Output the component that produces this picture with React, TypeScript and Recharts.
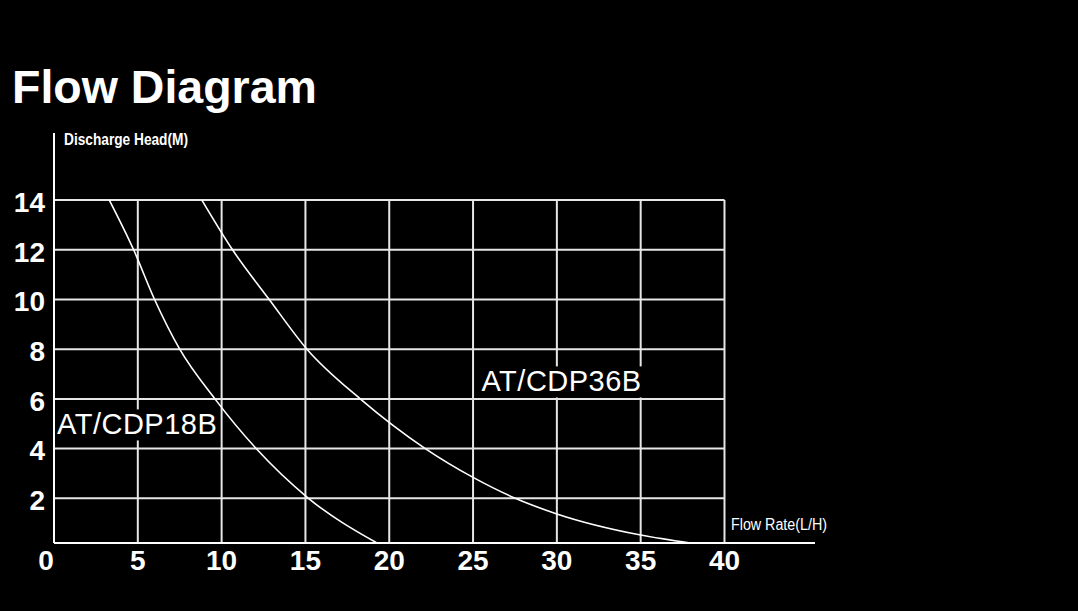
import { LineChart, Line, XAxis, YAxis, ReferenceLine, ReferenceDot } from "recharts";

const FONT = "'Liberation Sans', Arial, sans-serif";

// AT/CDP18B curve
const flow18 = [3.3, 4.75, 6.0, 7.5, 9.6, 12.06, 15.18, 19.27];
const head18 = [14, 12, 10, 8, 6, 4, 2, 0.2];

// AT/CDP36B curve
const flow36 = [8.82, 10.65, 12.84, 15.09, 18.27, 22.15, 25, 27.52, 30, 35, 37.97];
const head36 = [14, 12, 10, 8, 6, 4, 2.84, 2, 1.37, 0.52, 0.2];

const xTicks = [0, 5, 10, 15, 20, 25, 30, 35, 40];
const yTicks = [2, 4, 6, 8, 10, 12, 14];

const X_MIN = 0;
const X_MAX = 45.4;
const Y_MIN = 0.2;
const Y_MAX = 16.7;
const GRID_X_MAX = 40;
const GRID_Y_MAX = 14;

const data18 = flow18.map((flow, i) => ({ flow, head: head18[i] }));
const data36 = flow36.map((flow, i) => ({ flow, head: head36[i] }));

const XTick = ({ x, y, payload }: any) => {
    const shift = payload.value === 0 ? -8 : 0;
    return (
        <text x={x + shift} y={y} dy="0.71em" textAnchor="middle" fill="#fff" fontSize={28} fontWeight="bold" fontFamily={FONT}>
            {payload.value}
        </text>
    );
};

const YTick = ({ x, y, payload }: any) => (
    <text x={x} y={y} dy="0.42em" textAnchor="end" fill="#fff" fontSize={28} fontWeight="bold" fontFamily={FONT}>
        {payload.value}
    </text>
);

const curveLabel = (text: string) => (props: any) => {
    const { cx, cy } = props;
    return (
        <g>
            <rect x={cx - 1} y={cy - 25} width={162} height={31} fill="#000" />
            <text x={cx} y={cy} fill="#fff" fontSize={29} letterSpacing={0.5} fontFamily={FONT}>
                {text}
            </text>
        </g>
    );
};

export default function App() {
    return (
        <div style={{ position: "fixed", top: 0, left: 0, width: 1078, height: 611, background: "#000" }}>
            <LineChart width={1078} height={611} margin={{ top: 133, right: 263, bottom: 0, left: 0 }}>
                <XAxis
                    type="number"
                    dataKey="flow"
                    domain={[X_MIN, X_MAX]}
                    ticks={xTicks}
                    allowDataOverflow
                    height={68}
                    tickSize={0}
                    tickMargin={7}
                    tick={<XTick />}
                    axisLine={{ stroke: "#fff", strokeWidth: 2 }}
                />
                <YAxis
                    type="number"
                    dataKey="head"
                    domain={[Y_MIN, Y_MAX]}
                    ticks={yTicks}
                    allowDataOverflow
                    width={54}
                    tickSize={0}
                    tickMargin={9}
                    tick={<YTick />}
                    axisLine={{ stroke: "#fff", strokeWidth: 2 }}
                />
                {yTicks.map((v) => (
                    <ReferenceLine
                        key={"h" + v}
                        segment={[{ x: X_MIN, y: v }, { x: GRID_X_MAX, y: v }]}
                        stroke="#e6e6e6"
                        strokeWidth={2}
                        ifOverflow="visible"
                    />
                ))}
                {xTicks.filter((v) => v > 0).map((v) => (
                    <ReferenceLine
                        key={"v" + v}
                        segment={[{ x: v, y: Y_MIN }, { x: v, y: GRID_Y_MAX }]}
                        stroke="#e6e6e6"
                        strokeWidth={2}
                        ifOverflow="visible"
                    />
                ))}
                <Line
                    data={data18}
                    dataKey="head"
                    type="monotone"
                    stroke="#fff"
                    strokeWidth={1.6}
                    dot={false}
                    isAnimationActive={false}
                />
                <Line
                    data={data36}
                    dataKey="head"
                    type="monotone"
                    stroke="#fff"
                    strokeWidth={1.6}
                    dot={false}
                    isAnimationActive={false}
                />
                <ReferenceDot x={0.18} y={4.57} r={0} ifOverflow="visible" shape={curveLabel("AT/CDP18B")} />
                <ReferenceDot x={25.5} y={6.3} r={0} ifOverflow="visible" shape={curveLabel("AT/CDP36B")} />
            </LineChart>
            <svg
                width={1078}
                height={611}
                style={{ position: "absolute", top: 0, left: 0, pointerEvents: "none" }}
            >
                <text x={12} y={103} fill="#fff" fontSize={46.5} fontWeight="bold" fontFamily={FONT}>
                    Flow Diagram
                </text>
                <text
                    x={64}
                    y={145}
                    fill="#fff"
                    fontSize={16}
                    fontWeight="bold"
                    fontFamily={FONT}
                    textLength={124}
                    lengthAdjust="spacingAndGlyphs"
                >
                    Discharge Head(M)
                </text>
                <text
                    x={731}
                    y={530}
                    fill="#fff"
                    fontSize={16}
                    fontFamily={FONT}
                    textLength={96}
                    lengthAdjust="spacingAndGlyphs"
                >
                    Flow Rate(L/H)
                </text>
            </svg>
        </div>
    );
}
